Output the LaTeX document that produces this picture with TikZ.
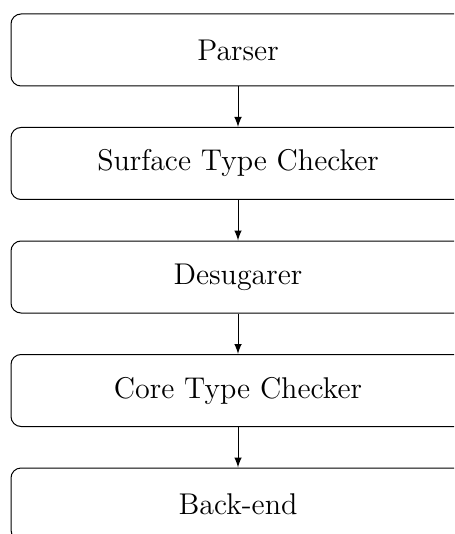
\documentclass[tikz,border=0pt]{standalone}
\usetikzlibrary{arrows}
\begin{document}
\begin{tikzpicture}[
  stage/.style={draw, rectangle, rounded corners=4pt,
    minimum width=181.6pt, minimum height=28.8pt, inner sep=0pt,
    font=\large},
  flow/.style={-latex, line width=0.4pt}
]
  % visible window of the pipeline
  \clip (0,0) rectangle (181.6pt,-213.6pt);
  \node[stage] (parser)  at (95.2pt,-20pt)    {Parser};
  \node[stage] (surface) at (95.2pt,-65.4pt)  {Surface Type Checker};
  \node[stage] (desugar) at (95.2pt,-110.8pt) {Desugarer};
  \node[stage] (core)    at (95.2pt,-156.2pt) {Core Type Checker};
  \node[stage] (backend) at (95.2pt,-201.6pt) {Back-end};
  \draw[flow] (parser.south)  -- (surface.north);
  \draw[flow] (surface.south) -- (desugar.north);
  \draw[flow] (desugar.south) -- (core.north);
  \draw[flow] (core.south)    -- (backend.north);
\end{tikzpicture}
\end{document}
